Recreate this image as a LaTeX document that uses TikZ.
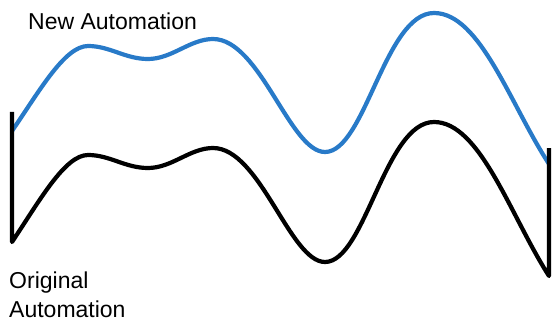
\documentclass[tikz,border=0pt]{standalone}
\usepackage{fontspec}
\setmainfont{Liberation Sans}
\definecolor{newblue}{RGB}{40,122,200}
\begin{document}
\begin{tikzpicture}[x=1pt,y=-1pt,
  curve/.style={line width=4.2pt, line join=round},
  lbl/.style={inner sep=0pt, anchor=base west, font=\fontsize{23}{28}\selectfont}]
\useasboundingbox (0,0) rectangle (552,321);
% new automation curve (blue)
\draw[curve, newblue, line cap=butt]
  (12,131) .. controls (40,90) and (65,46) .. (88,46)
  .. controls (110,46) and (125,59) .. (148,59)
  .. controls (172,59) and (190,39) .. (213,39)
  .. controls (260,39) and (290,152) .. (325,152)
  .. controls (365,152) and (385,13) .. (434,13)
  .. controls (480,13) and (510,104) .. (549,164);
% original automation curve (black) with vertical bounds
\draw[curve, black]
  (12,112) -- (12,242)
  .. controls (40,200) and (65,155) .. (88,155)
  .. controls (110,155) and (125,168) .. (148,168)
  .. controls (172,168) and (190,148) .. (213,148)
  .. controls (260,148) and (290,262) .. (325,262)
  .. controls (365,262) and (385,122) .. (434,122)
  .. controls (480,122) and (510,215) .. (549,276)
  -- (549,148);
\node[lbl] (newlab) at (28,30) {New Automation};
\node[lbl] (orig1) at (9,288) {Original};
\node[lbl] (orig2) at (9,317) {Automation};
\end{tikzpicture}
\end{document}
